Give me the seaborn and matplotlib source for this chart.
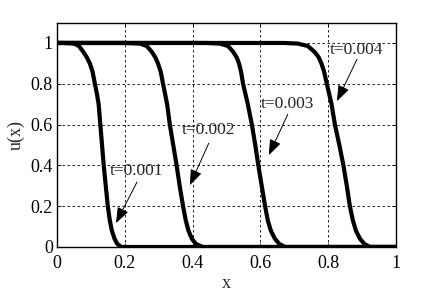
import numpy as np
import pandas as pd
import seaborn as sns
import matplotlib
matplotlib.use("Agg")
import matplotlib.pyplot as plt

# wave fronts at four times (same u levels for each)
u_levels = [1, 1, 0.997, 0.985, 0.956, 0.93, 0.90, 0.86, 0.80, 0.75, 0.70, 0.60, 0.50, 0.40, 0.30, 0.20, 0.13, 0.08, 0.04, 0.015, 0, 0]
x1 = [0, 0.02, 0.05, 0.065, 0.078, 0.088, 0.097, 0.105, 0.112, 0.118, 0.123, 0.128, 0.133, 0.138, 0.144, 0.150, 0.156, 0.162, 0.17, 0.178, 0.19, 1.0]
x2 = [0, 0.2, 0.245, 0.265, 0.28, 0.29, 0.298, 0.306, 0.313, 0.319, 0.325, 0.333, 0.343, 0.353, 0.362, 0.372, 0.38, 0.388, 0.398, 0.41, 0.43, 1.0]
x3 = [0, 0.44, 0.48, 0.505, 0.52, 0.53, 0.537, 0.543, 0.549, 0.556, 0.563, 0.575, 0.585, 0.594, 0.604, 0.614, 0.622, 0.631, 0.643, 0.656, 0.673, 1.0]
x4 = [0, 0.67, 0.71, 0.74, 0.76, 0.772, 0.78, 0.788, 0.796, 0.803, 0.81, 0.82, 0.833, 0.845, 0.855, 0.864, 0.873, 0.882, 0.894, 0.907, 0.923, 1.0]

labels = ["t=0.001", "t=0.002", "t=0.003", "t=0.004"]
text_xy = [(0.234, 0.372), (0.448, 0.573), (0.681, 0.70), (0.883, 0.964)]
tail_xy = [(0.236, 0.318), (0.448, 0.509), (0.681, 0.651), (0.885, 0.92)]
tip_xy = [(0.174, 0.117), (0.392, 0.303), (0.625, 0.45), (0.826, 0.715)]

frames = []
for lab, xs in zip(labels, [x1, x2, x3, x4]):
    frames.append(pd.DataFrame({"x": xs, "u": u_levels, "t": lab}))
data = pd.concat(frames, ignore_index=True)

sns.set_theme(style="white")
plt.rcParams["font.family"] = ["Liberation Serif", "DejaVu Serif"]

fig = plt.figure(figsize=(4.38, 2.93), dpi=100)
ax = fig.add_axes([0.130, 0.157, 0.774, 0.766])

sns.lineplot(data=data, x="x", y="u", units="t", estimator=None, sort=False,
             color="black", linewidth=3, ax=ax, legend=False)

ax.set_xlim(0, 1)
ax.set_ylim(0, 1.1)
ax.set_xticks([0, 0.2, 0.4, 0.6, 0.8, 1])
ax.set_xticklabels(["0", "0.2", "0.4", "0.6", "0.8", "1"])
ax.set_yticks([0, 0.2, 0.4, 0.6, 0.8, 1])
ax.set_yticklabels(["0", "0.2", "0.4", "0.6", "0.8", "1"])
ax.grid(True, color="black", linestyle=(0, (3, 3)), linewidth=0.6)
ax.tick_params(direction="in", length=3, width=0.6, colors="black", labelsize=13,
               top=True, right=True, bottom=True, left=True)
ax.tick_params(axis="x", pad=6)
ax.tick_params(axis="y", pad=3)
for s in ax.spines.values():
    s.set_color("black")
    s.set_linewidth(1.0)
ax.set_xlabel("x", fontsize=13, labelpad=2)
ax.set_ylabel("u(x)", fontsize=13, labelpad=4)

for lab, txy, axy, pxy in zip(labels, text_xy, tail_xy, tip_xy):
    ax.text(txy[0], txy[1], lab, fontsize=12.5, ha="center", va="center")
    ax.annotate("", xy=pxy, xytext=axy,
                arrowprops=dict(arrowstyle="-|>,head_length=0.8,head_width=0.3",
                                color="black", lw=0.7, shrinkA=0, shrinkB=0))

fig.savefig("out.png", dpi=100)
